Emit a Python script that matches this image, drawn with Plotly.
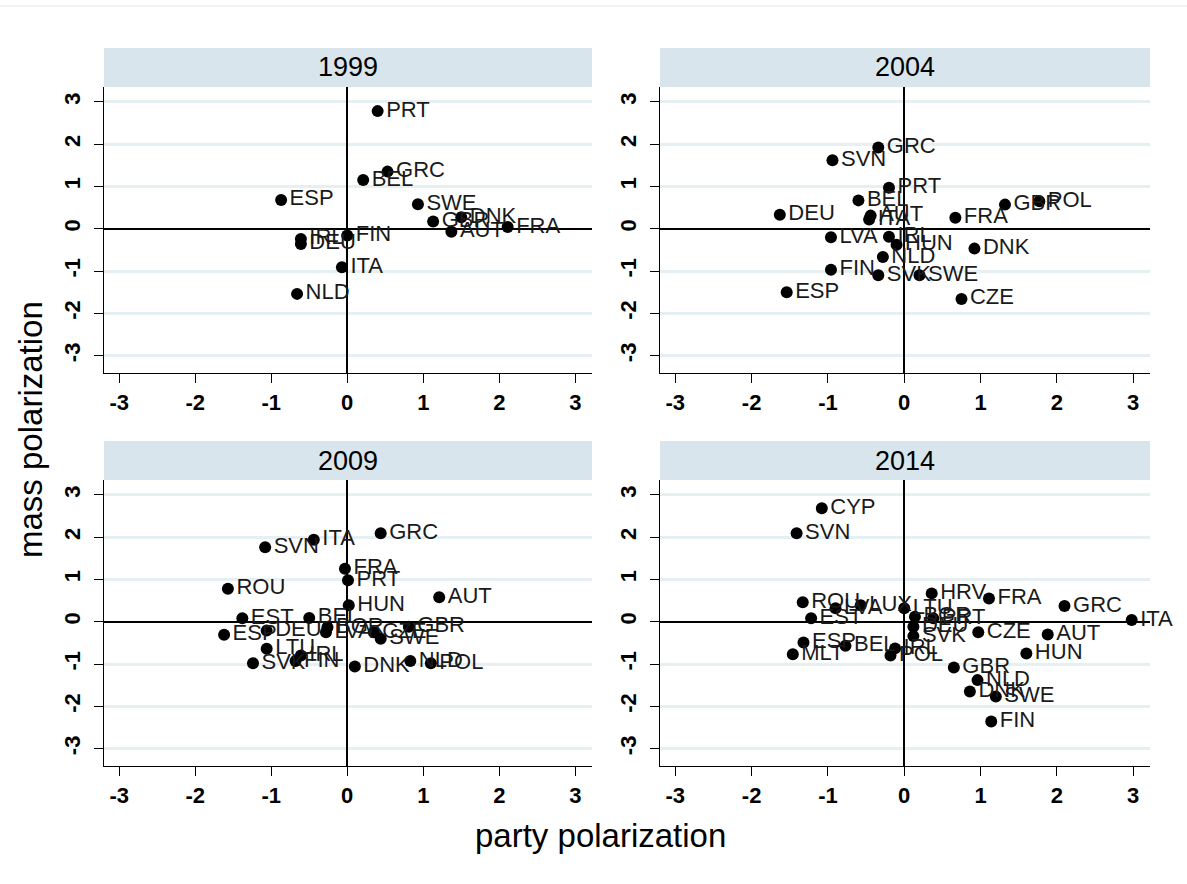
import plotly.graph_objects as go

# ---- data ----
countries_1999 = ["PRT", "GRC", "BEL", "ESP", "SWE", "GBR", "DNK", "FRA", "AUT", "FIN", "IRL", "DEU", "ITA", "NLD"]
party_1999 = [0.40, 0.53, 0.21, -0.87, 0.93, 1.13, 1.50, 2.11, 1.37, 0.00, -0.61, -0.61, -0.07, -0.66]
mass_1999 = [2.78, 1.35, 1.15, 0.68, 0.58, 0.17, 0.27, 0.04, -0.07, -0.16, -0.24, -0.36, -0.91, -1.54]

countries_2004 = ["GRC", "SVN", "PRT", "BEL", "DEU", "AUT", "ITA", "GBR", "POL", "FRA", "LVA", "IRL", "HUN",
                  "NLD", "DNK", "FIN", "SVK", "SWE", "ESP", "CZE"]
party_2004 = [-0.34, -0.94, -0.20, -0.60, -1.63, -0.44, -0.46, 1.32, 1.77, 0.67, -0.96, -0.20, -0.10,
              -0.28, 0.92, -0.96, -0.34, 0.20, -1.54, 0.75]
mass_2004 = [1.92, 1.62, 0.97, 0.67, 0.33, 0.31, 0.22, 0.57, 0.65, 0.26, -0.20, -0.19, -0.38,
             -0.67, -0.47, -0.97, -1.10, -1.10, -1.50, -1.66]

countries_2009 = ["GRC", "ITA", "SVN", "FRA", "PRT", "ROU", "AUT", "HUN", "EST", "BEL", "ESP", "DEU", "BGR",
                  "LVA", "CZE", "SWE", "GBR", "LTU", "IRL", "FIN", "SVK", "DNK", "NLD", "POL"]
party_2009 = [0.44, -0.44, -1.08, -0.03, 0.01, -1.57, 1.21, 0.02, -1.38, -0.50, -1.62, -1.06, -0.26,
              -0.28, 0.35, 0.44, 0.81, -1.06, -0.61, -0.68, -1.24, 0.10, 0.83, 1.10]
mass_2009 = [2.09, 1.94, 1.76, 1.25, 0.98, 0.78, 0.58, 0.39, 0.08, 0.09, -0.31, -0.21, -0.13,
             -0.25, -0.25, -0.40, -0.12, -0.64, -0.80, -0.93, -0.98, -1.06, -0.93, -0.98]

countries_2014 = ["CYP", "SVN", "HRV", "FRA", "GRC", "ITA", "ROU", "LVA", "LUX", "LTU", "EST", "BGR", "PRT",
                  "DEU", "SVK", "CZE", "AUT", "ESP", "BEL", "MLT", "IRL", "POL", "HUN", "GBR", "NLD",
                  "DNK", "SWE", "FIN"]
party_2014 = [-1.08, -1.41, 0.36, 1.11, 2.10, 2.98, -1.33, -0.90, -0.57, 0.00, -1.22, 0.14, 0.38,
              0.12, 0.12, 0.97, 1.88, -1.32, -0.77, -1.46, -0.12, -0.18, 1.60, 0.65, 0.96,
              0.86, 1.20, 1.14]
mass_2014 = [2.68, 2.09, 0.67, 0.55, 0.37, 0.04, 0.46, 0.32, 0.39, 0.32, 0.08, 0.12, 0.08,
             -0.12, -0.34, -0.25, -0.30, -0.49, -0.57, -0.77, -0.63, -0.80, -0.75, -1.08, -1.38,
             -1.65, -1.77, -2.36]

years = ["1999", "2004", "2009", "2014"]
panels = [
    (countries_1999, party_1999, mass_1999),
    (countries_2004, party_2004, mass_2004),
    (countries_2009, party_2009, mass_2009),
    (countries_2014, party_2014, mass_2014),
]
tick_vals = [-3, -2, -1, 0, 1, 2, 3]
tick_text = ["-3", "-2", "-1", "0", "1", "2", "3"]

# ---- layout geometry (pixels) ----
W, H = 1187, 884
col_px = [(104, 592), (660, 1150)]
row_px = [(87, 373), (480, 766)]
strip_h = 39

FONT = "Liberation Sans, Arial, sans-serif"

fig = go.Figure()

for i, (year, (cc, px, my)) in enumerate(zip(years, panels)):
    r, c = divmod(i, 2)
    ax = "" if i == 0 else str(i + 1)
    x0, x1 = col_px[c]
    y0, y1 = row_px[r]
    fig.add_trace(go.Scatter(
        x=px, y=my, text=cc, mode="markers+text",
        textposition="middle right",
        textfont=dict(family=FONT, size=22, color="#1a1a1a"),
        marker=dict(color="black", size=12),
        xaxis="x" + ax, yaxis="y" + ax, showlegend=False, cliponaxis=False,
    ))
    xd = [x0 / W, x1 / W]
    yd = [1 - y1 / H, 1 - y0 / H]
    fig.layout["xaxis" + ax] = dict(
        domain=xd, range=[-3.2, 3.22], anchor="y" + ax,
        tickvals=tick_vals, ticktext=tick_text, ticks="outside", ticklen=9, tickwidth=1,
        tickcolor="black", showline=True, linecolor="black", linewidth=1,
        showgrid=False, zeroline=True, zerolinecolor="black", zerolinewidth=2,
        tickfont=dict(family=FONT, size=22, color="black", weight="bold"), fixedrange=True,
        ticklabelstandoff=1,
    )
    fig.layout["yaxis" + ax] = dict(
        domain=yd, range=[-3.41, 3.35], anchor="x" + ax,
        tickvals=tick_vals, ticktext=tick_text, ticks="outside", ticklen=9, tickwidth=1,
        tickcolor="black", showline=True, linecolor="black", linewidth=1,
        showgrid=True, gridcolor="#e6f0f2", gridwidth=3,
        zeroline=True, zerolinecolor="black", zerolinewidth=2, tickangle=-90,
        tickfont=dict(family=FONT, size=22, color="black", weight="bold"), fixedrange=True,
        ticklabelstandoff=5,
    )
    # strip
    fig.add_shape(type="rect", xref="paper", yref="paper",
                  x0=x0 / W, x1=x1 / W, y0=1 - y0 / H, y1=1 - (y0 - strip_h) / H,
                  fillcolor="#d9e5ec", line=dict(width=0), layer="below")
    fig.add_annotation(text=year, xref="paper", yref="paper",
                       x=(x0 + x1) / 2 / W, y=1 - (y0 - strip_h / 2) / H,
                       showarrow=False, xanchor="center", yanchor="middle",
                       font=dict(family=FONT, size=27, color="black"))

# axis titles
fig.add_annotation(text="party polarization", xref="paper", yref="paper",
                   x=601 / W, y=1 - 835 / H, showarrow=False, xanchor="center", yanchor="middle",
                   font=dict(family=FONT, size=33, color="black"))
fig.add_annotation(text="mass polarization", xref="paper", yref="paper",
                   x=30 / W, y=1 - 430 / H, showarrow=False, xanchor="center", yanchor="middle",
                   textangle=-90, font=dict(family=FONT, size=33, color="black"))

# thin top border line
fig.add_shape(type="line", xref="paper", yref="paper", x0=0, x1=1, y0=1 - 6 / H, y1=1 - 6 / H,
              line=dict(color="#e4eaee", width=1))

fig.update_layout(
    width=W, height=H, margin=dict(l=0, r=0, t=0, b=0),
    paper_bgcolor="white", plot_bgcolor="white",
)

fig.write_html("out.html")
